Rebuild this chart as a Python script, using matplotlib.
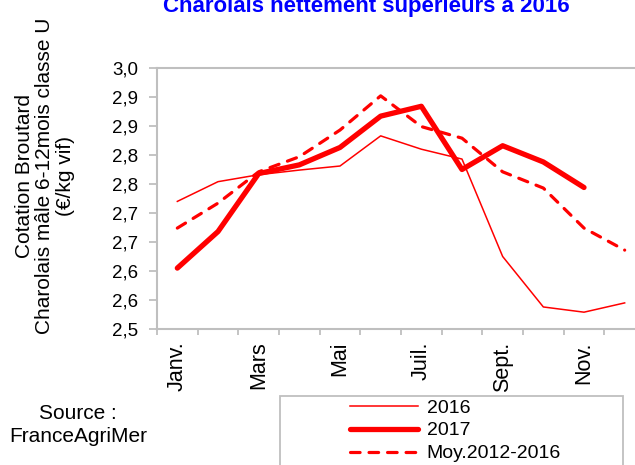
import matplotlib
matplotlib.use("Agg")
import matplotlib.pyplot as plt
from matplotlib.patches import Rectangle

plt.rcParams['font.family'] = ['Liberation Sans', 'DejaVu Sans']

months = ["Janv.", "Févr.", "Mars", "Avr.", "Mai", "Juin", "Juil.", "Août",
          "Sept.", "Oct.", "Nov.", "Déc."]
shown_months = ["Janv.", "Mars", "Mai", "Juil.", "Sept.", "Nov."]
v2016 = [2.720, 2.754, 2.766, 2.774, 2.781, 2.833, 2.810, 2.793, 2.625, 2.538, 2.529, 2.545]
v2017 = [2.605, 2.668, 2.768, 2.783, 2.813, 2.867, 2.884, 2.775, 2.816, 2.788, 2.744]
vmoy = [2.674, 2.717, 2.771, 2.797, 2.843, 2.902, 2.849, 2.829, 2.771, 2.743, 2.674, 2.636]
ytick_values = [2.50, 2.55, 2.60, 2.65, 2.70, 2.75, 2.80, 2.85, 2.90, 2.95]
ytick_labels = ["2,5", "2,6", "2,6", "2,7", "2,7", "2,8", "2,8", "2,9", "2,9", "3,0"]

W, H = 635, 465
fig = plt.figure(figsize=(W / 100, H / 100), dpi=100)
ax = fig.add_axes([157 / W, 1 - 329 / H, (645 - 157) / W, (329 - 68) / H])

red = "#FF0000"
gray = "#BFBFBF"
x16 = list(range(len(v2016)))
x17 = list(range(len(v2017)))
xm = list(range(len(vmoy)))
l1, = ax.plot(x16, v2016, color=red, lw=1.1, label="2016", solid_joinstyle='round')
l2, = ax.plot(x17, v2017, color=red, lw=3.8, label="2017", solid_capstyle='round',
              solid_joinstyle='round')
l3, = ax.plot(xm, vmoy, color=red, lw=2.3, linestyle=(0, (3.0, 2.8)),
              dash_capstyle='round', label="Moy.2012-2016")

ax.set_xlim(-0.5, 11.5)
ax.set_ylim(2.5, 2.95)
ax.set_yticks(ytick_values)
ax.set_yticklabels(ytick_labels)
ax.set_xticks([i - 0.5 for i in range(13)], minor=False)
ax.set_xticklabels([])
ax.set_xticks([months.index(m) for m in shown_months], minor=True)
ax.set_xticklabels(shown_months, minor=True, rotation=90, va='top', ha='center')
ax.tick_params(axis='x', which='minor', length=0, pad=9, labelsize=15.5)
ax.tick_params(axis='x', which='major', length=4.5, width=1.3, color=gray, direction='out')
ax.tick_params(axis='y', length=5.5, width=1.3, color=gray, direction='out', labelsize=13.5,
               pad=8)
for s in ax.spines.values():
    s.set_color(gray)
    s.set_linewidth(1.5)

fig.text(45 / W, 1 - 175.5 / H, "Cotation Broutard\nCharolais mâle 6-12mois classe U\n(€/kg vif)",
         rotation=90, ha='center', va='center', fontsize=15, linespacing=1.1,
         multialignment='center')

fig.text(366 / W, 1 - 12 / H, "Charolais nettement supérieurs à 2016", color="#0000FF",
         fontsize=16, fontweight='bold', ha='center', va='baseline')

fig.text(78 / W, 1 - 413 / H, "Source :", ha='center', va='center', fontsize=15)
fig.text(78 / W, 1 - 436 / H, "FranceAgriMer", ha='center', va='center', fontsize=15)

fig.patches.append(Rectangle((280 / W, -0.05), (623 - 280) / W, (1 - 396 / H) + 0.05,
                             transform=fig.transFigure, fill=False, edgecolor=gray,
                             linewidth=1.3))
fig.legend(handles=[l1, l2, l3], loc='upper left', bbox_to_anchor=(350 / W, 1 - 399 / H),
           frameon=False, fontsize=14, handlelength=3.5, handletextpad=0.45,
           labelspacing=0.27, borderpad=0.0, borderaxespad=0.0)

fig.savefig("out.png", dpi=100)
